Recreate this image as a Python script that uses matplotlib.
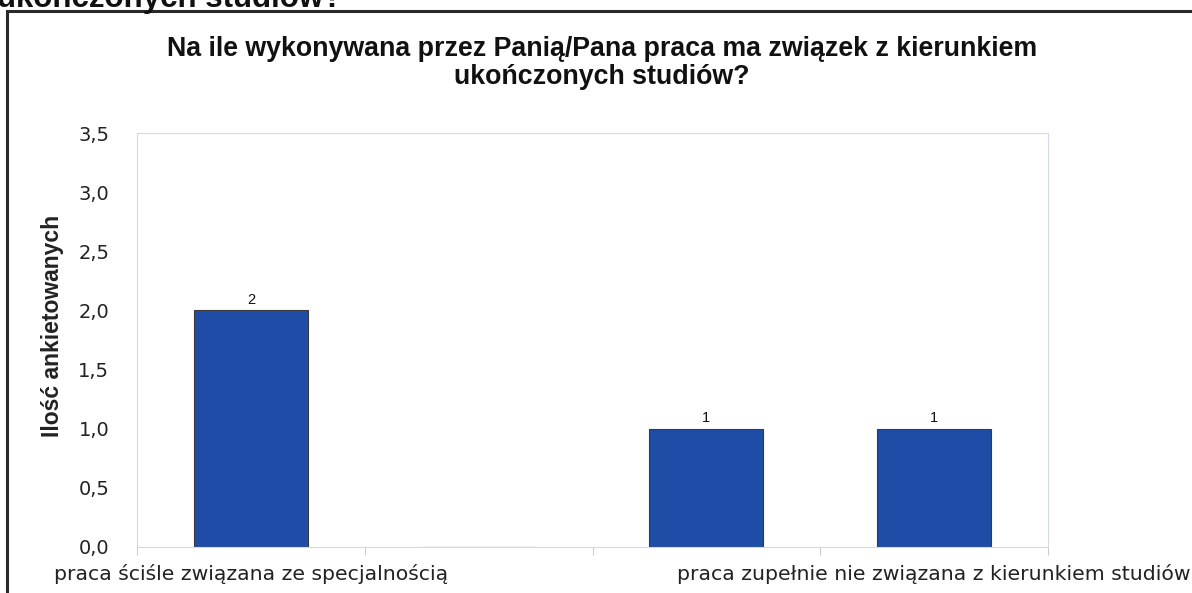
import numpy as np
import matplotlib
matplotlib.use('Agg')
import matplotlib.pyplot as plt
import matplotlib.ticker as ticker
from matplotlib.patches import Rectangle

# data (labels of the 2nd and 3rd category are not shown)
categories = ['praca ściśle związana ze specjalnością', '', '',
              'praca zupełnie nie związana z kierunkiem studiów']
counts = [2, 0, 1, 1]
y_ticks = [0.0, 0.5, 1.0, 1.5, 2.0, 2.5, 3.0, 3.5]

title = 'Na ile wykonywana przez Panią/Pana praca ma związek z kierunkiem\nukończonych studiów?'
page_heading = 'ukończonych studiów?'
y_label = 'Ilość ankietowanych'

W, H = 1192, 593
fig = plt.figure(figsize=(W / 100, H / 100), dpi=100)
fig.patch.set_facecolor('white')

# black frame of the pasted chart, running off the right and bottom
fig.patches.append(Rectangle((7 / W, -0.05), 1.1, (H - 11) / H + 0.05,
                             transform=fig.transFigure, fill=False,
                             edgecolor='#2a2a2a', linewidth=2.2))

# cut heading of the page above the chart
fig.text(-3 / W, 1 - 7 / H, page_heading, fontsize=22.5, fontweight='bold',
         family='Liberation Sans', color='#111111', va='baseline', ha='left')

ax = fig.add_axes([137 / W, 1 - 547 / H, (1048 - 137) / W, (547 - 133) / H])

x = np.arange(len(categories))
bars = ax.bar(x, counts, width=0.5, color='#1f4ca6', edgecolor='#3a3a3a', linewidth=0.8)
for xi, v in zip(x, counts):
    if v > 0:
        ax.text(xi, v + 0.03, str(v), ha='center', va='bottom', fontsize=10.5,
                family='Liberation Sans', color='#111111')

ax.set_xlim(-0.5, len(categories) - 0.5)
ax.set_ylim(0, 3.5)
ax.set_yticks(y_ticks)
ax.yaxis.set_major_formatter(ticker.FuncFormatter(lambda v, p: f'{v:.1f}'.replace('.', ',')))
ax.tick_params(axis='y', length=0, pad=20, labelsize=14, labelcolor='#222222')

ax.set_xticks(x)
ax.set_xticklabels(categories, fontsize=14.7, color='#222222')
ax.tick_params(axis='x', which='major', length=0, pad=12)
ax.set_xticks(np.arange(len(categories) + 1) - 0.5, minor=True)
ax.tick_params(axis='x', which='minor', length=6, color='#c8ccd6', width=0.8)

for s in ax.spines.values():
    s.set_color('#d4d8e4')
    s.set_linewidth(0.8)

ax.set_ylabel(y_label, fontsize=16.5, fontweight='bold', family='Liberation Sans',
              color='#222222')
ax.yaxis.set_label_coords(-(137 - 64) / (1048 - 137), (547 - 326) / (547 - 133))

fig.text(602 / W, 1 - 63 / H, title, ha='center', va='center', fontsize=19.3,
         fontweight='bold', family='Liberation Sans', color='#111111', linespacing=1.15)

fig.savefig('out.png', dpi=100)
